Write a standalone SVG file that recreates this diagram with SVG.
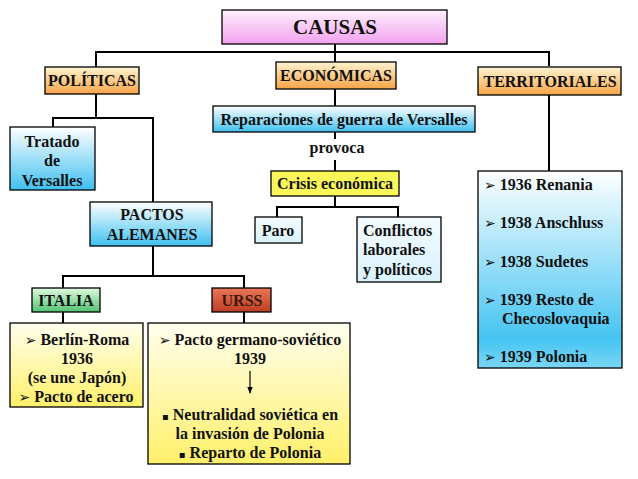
<svg xmlns="http://www.w3.org/2000/svg" width="638" height="479" viewBox="0 0 638 479">
<defs>
<linearGradient id="gPink" x1="0" y1="0" x2="0" y2="1"><stop offset="0" stop-color="#fff0fd"/><stop offset="1" stop-color="#f2a2ee"/></linearGradient>
<linearGradient id="gOrange" x1="0" y1="0" x2="0" y2="1"><stop offset="0" stop-color="#fff4d0"/><stop offset="1" stop-color="#f7a447"/></linearGradient>
<linearGradient id="gBlue" x1="0" y1="0" x2="0" y2="1"><stop offset="0" stop-color="#ffffff"/><stop offset="1" stop-color="#3fc0f0"/></linearGradient>
<linearGradient id="gBlue2" x1="0" y1="0" x2="0" y2="1"><stop offset="0" stop-color="#ffffff"/><stop offset="0.85" stop-color="#45c4f2"/><stop offset="1" stop-color="#7ad6f6"/></linearGradient>
<linearGradient id="gLight" x1="0" y1="0" x2="0" y2="1"><stop offset="0" stop-color="#f4fcff"/><stop offset="1" stop-color="#d8f2fc"/></linearGradient>
<linearGradient id="gGreen" x1="0" y1="0" x2="0" y2="1"><stop offset="0" stop-color="#e0fae0"/><stop offset="1" stop-color="#52c272"/></linearGradient>
<linearGradient id="gRed" x1="0" y1="0" x2="0" y2="1"><stop offset="0" stop-color="#ec7658"/><stop offset="1" stop-color="#bd3e22"/></linearGradient>
<linearGradient id="gYellow" x1="0" y1="0" x2="0" y2="1"><stop offset="0" stop-color="#ffffee"/><stop offset="1" stop-color="#fff06a"/></linearGradient>
<marker id="arr" viewBox="0 0 10 10" refX="9" refY="5" markerWidth="6" markerHeight="6" orient="auto"><path d="M0,1 L10,5 L0,9 z" fill="#000"/></marker>
</defs>
<style>
.box{stroke:#000;stroke-width:1.3}
text{font-family:"Liberation Serif","Times New Roman",serif;font-weight:bold;font-size:16px;fill:#111}
.c{text-anchor:middle}
.sym{font-family:"DejaVu Sans",sans-serif;font-size:14px;font-weight:normal}
.sq{font-family:"DejaVu Sans",sans-serif;font-size:10px;font-weight:normal}
#connectors path{fill:none;stroke:#000;stroke-width:2}
</style>
<g id="connectors">
<path d="M335,44 V52 M96,67 V52 H549 V66 M335,52 V62"/>
<path d="M96,94 V118 M53,127 V118 H153 V202"/>
<path d="M335,89 V106 M335,132 V139 M335,160 V171 M335,196 V207 M277,217 V207 H398 V217"/>
<path d="M549,95 V171"/>
<path d="M153,246 V276 M63,288 V276 H244 V288 M63,312 V323 M244,312 V323"/>
</g>
<g id="causas"><rect class="box" x="222" y="10" width="225" height="34" fill="url(#gPink)"/><text x="335" y="34" class="c" style="font-size:21px">CAUSAS</text></g>
<g id="politicas"><rect class="box" x="45" y="67" width="94" height="27" fill="url(#gOrange)"/><text x="92" y="86" class="c">POLÍTICAS</text></g>
<g id="economicas"><rect class="box" x="276" y="62" width="120" height="27" fill="url(#gOrange)"/><text x="336" y="81" class="c">ECONÓMICAS</text></g>
<g id="territoriales"><rect class="box" x="478" y="67" width="143" height="28" fill="url(#gOrange)"/><text x="550" y="87" class="c">TERRITORIALES</text></g>
<g id="tratado"><rect class="box" x="10" y="127" width="85" height="63" fill="url(#gBlue)"/><text x="52" y="147" class="c">Tratado</text><text x="52" y="166" class="c">de</text><text x="52" y="186" class="c">Versalles</text></g>
<g id="pactos"><rect class="box" x="90" y="202" width="122" height="44" fill="url(#gBlue)"/><text x="152" y="220" class="c">PACTOS</text><text x="152" y="240" class="c">ALEMANES</text></g>
<g id="reparaciones"><rect class="box" x="213" y="106" width="262" height="26" fill="url(#gBlue)"/><text x="344" y="125" class="c">Reparaciones de guerra de Versalles</text></g>
<g id="provoca"><text x="337" y="153" class="c">provoca</text></g>
<g id="crisis"><rect class="box" x="271" y="171" width="128" height="25" fill="#f9f858"/><text x="335" y="189" class="c">Crisis económica</text></g>
<g id="paro"><rect class="box" x="255" y="217" width="47" height="26" fill="url(#gLight)"/><text x="278" y="236" class="c">Paro</text></g>
<g id="conflictos"><rect class="box" x="357" y="217" width="84" height="65" fill="url(#gLight)"/><text x="363" y="236">Conflictos</text><text x="363" y="255">laborales</text><text x="363" y="275">y políticos</text></g>
<g id="territorios"><rect class="box" x="478" y="171" width="144" height="197" fill="url(#gBlue2)"/>
<text x="484" y="190"><tspan class="sym">➢</tspan> 1936 Renania</text>
<text x="484" y="228"><tspan class="sym">➢</tspan> 1938 Anschluss</text>
<text x="484" y="267"><tspan class="sym">➢</tspan> 1938 Sudetes</text>
<text x="484" y="305"><tspan class="sym">➢</tspan> 1939 Resto de</text>
<text x="502" y="324">Checoslovaquia</text>
<text x="484" y="362"><tspan class="sym">➢</tspan> 1939 Polonia</text></g>
<g id="italia"><rect class="box" x="32" y="288" width="68" height="24" fill="url(#gGreen)"/><text x="66" y="306" class="c">ITALIA</text></g>
<g id="urss"><rect class="box" x="212" y="288" width="59" height="24" fill="url(#gRed)"/><text x="242" y="306" class="c" style="fill:#3a1a10">URSS</text></g>
<g id="berlin"><rect class="box" x="10" y="323" width="133" height="84" fill="url(#gYellow)"/>
<text x="77" y="345" class="c"><tspan class="sym">➢</tspan> Berlín-Roma</text>
<text x="77" y="364" class="c">1936</text>
<text x="77" y="383" class="c">(se une Japón)</text>
<text x="76" y="402" class="c"><tspan class="sym">➢</tspan> Pacto de acero</text></g>
<g id="pacto"><rect class="box" x="148" y="323" width="202" height="141" fill="url(#gYellow)"/>
<text x="250" y="345" class="c"><tspan class="sym">➢</tspan> Pacto germano-soviético</text>
<text x="250" y="364" class="c">1939</text>
<path d="M250,371 V393" stroke="#000" stroke-width="1.2" fill="none" marker-end="url(#arr)"/>
<text x="250" y="420" class="c"><tspan class="sq">▪</tspan> Neutralidad soviética en</text>
<text x="250" y="439" class="c">la invasión de Polonia</text>
<text x="250" y="458" class="c"><tspan class="sq">▪</tspan> Reparto de Polonia</text></g>
</svg>
